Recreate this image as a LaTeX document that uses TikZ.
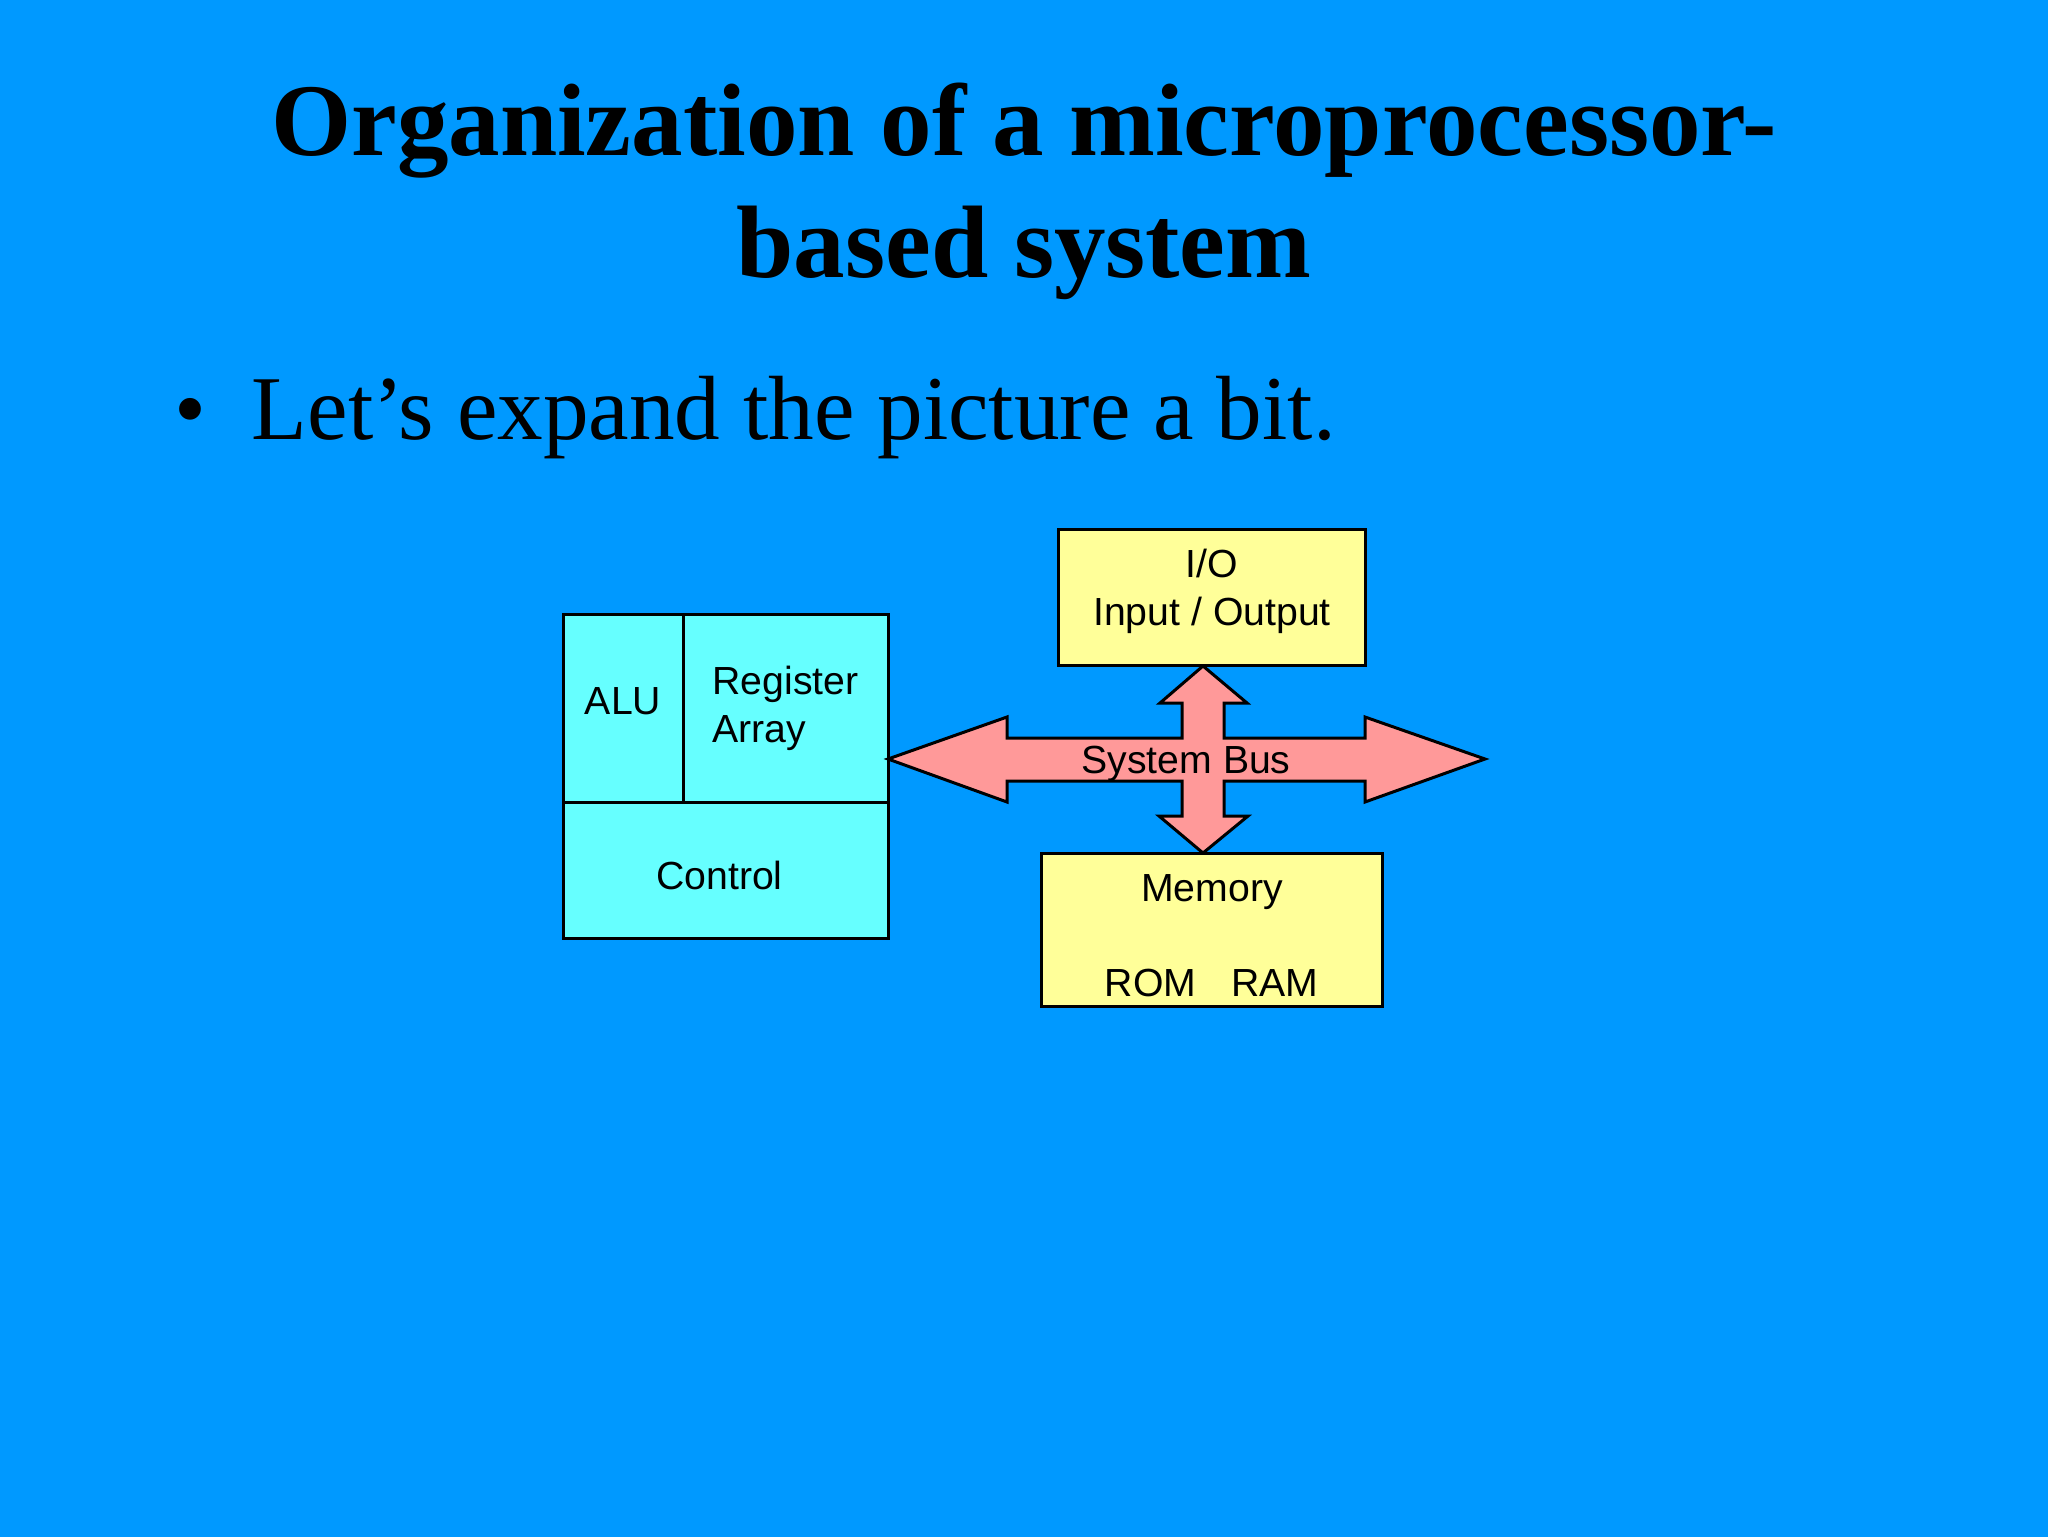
\documentclass[tikz,border=0pt]{standalone}
\usepackage{fontspec}
\setmainfont{Liberation Serif}
\newfontfamily\diagfont{Liberation Sans}
\definecolor{bg}{HTML}{0099FF}
\definecolor{cpufill}{HTML}{66FFFF}
\definecolor{unitfill}{HTML}{FFFF99}
\definecolor{busfill}{HTML}{FF9999}
\begin{document}
\begin{tikzpicture}[x=0.5pt,y=-0.5pt,
  titletext/.style={anchor=base, inner sep=0, font=\fontsize{51.5}{60.75}\selectfont\bfseries},
  bullettext/.style={inner sep=0, font=\fontsize{45.6}{54}\selectfont},
  box/.style={draw=black, line width=1.5pt, inner sep=0, outer sep=0},
  cpubox/.style={box, fill=cpufill},
  unitbox/.style={box, fill=unitfill},
  lbl/.style={inner sep=0, font=\diagfont\fontsize{19.6}{24}\selectfont},
  bus/.style={draw=black, line width=1.5pt, fill=busfill, line join=miter}
]
\useasboundingbox (0,0) rectangle (2048,1536);
\fill[bg] (-10,-10) rectangle (2058,1546);

% Title
\node[titletext] (t1) at (1024,155.7) {Organization of a microprocessor-};
\node[titletext] (t2) at (1024,277) {based system};

% Bullet
\node[bullettext, anchor=base] (dot) at (190.5,439) {•};
\node[bullettext, anchor=base west] (bul) at (251.5,439) {Let’s expand the picture a bit.};

% CPU boxes
\node[cpubox, minimum width=60pt, minimum height=94pt] (alu) at (623,708) {};
\node[cpubox, minimum width=102.5pt, minimum height=94pt] (reg) at (785.5,708) {};
\node[cpubox, minimum width=162.5pt, minimum height=68pt] (ctl) at (725.5,870) {};

% I/O and Memory
\node[unitbox, minimum width=153.5pt, minimum height=68pt] (io) at (1211.5,597) {};
\node[unitbox, minimum width=170.5pt, minimum height=76.5pt] (mem) at (1211.5,929.5) {};

% System bus (cross-shaped double arrow)
\coordinate (ltip) at (888,759);
\coordinate (rtip) at (1485,759);
\coordinate (ttip) at (1203,666);
\coordinate (btip) at (1203,853);
\draw[bus] (ltip) -- (1007,717) -- (1007,738) -- (1182,738) -- (1182,703) -- (1160,703)
  -- (ttip) -- (1247,703) -- (1224,703) -- (1224,738) -- (1365,738) -- (1365,717)
  -- (rtip) -- (1365,802) -- (1365,781) -- (1224,781) -- (1224,816) -- (1248,816)
  -- (btip) -- (1159,816) -- (1182,816) -- (1182,781) -- (1007,781) -- (1007,802) -- cycle;

% Labels
\node[lbl, anchor=base] (alut) at (623,714.3) {ALU};
\node[lbl, anchor=base west] (regt1) at (712,694) {Register};
\node[lbl, anchor=base west] (regt2) at (712,742.7) {Array};
\node[lbl, anchor=base] (ctlt) at (719.5,889) {Control};
\node[lbl, anchor=base] (iot1) at (1212,577.3) {I/O};
\node[lbl, anchor=base] (iot2) at (1212,625) {Input / Output};
\node[lbl, anchor=base] (memt1) at (1212,901.7) {Memory};
\node[lbl, anchor=base] (memt2) at (1211.5,996.7) {ROM\hspace{17.5pt}RAM};
\node[lbl, anchor=base] (bust) at (1186,773) {System Bus};
\end{tikzpicture}
\end{document}
